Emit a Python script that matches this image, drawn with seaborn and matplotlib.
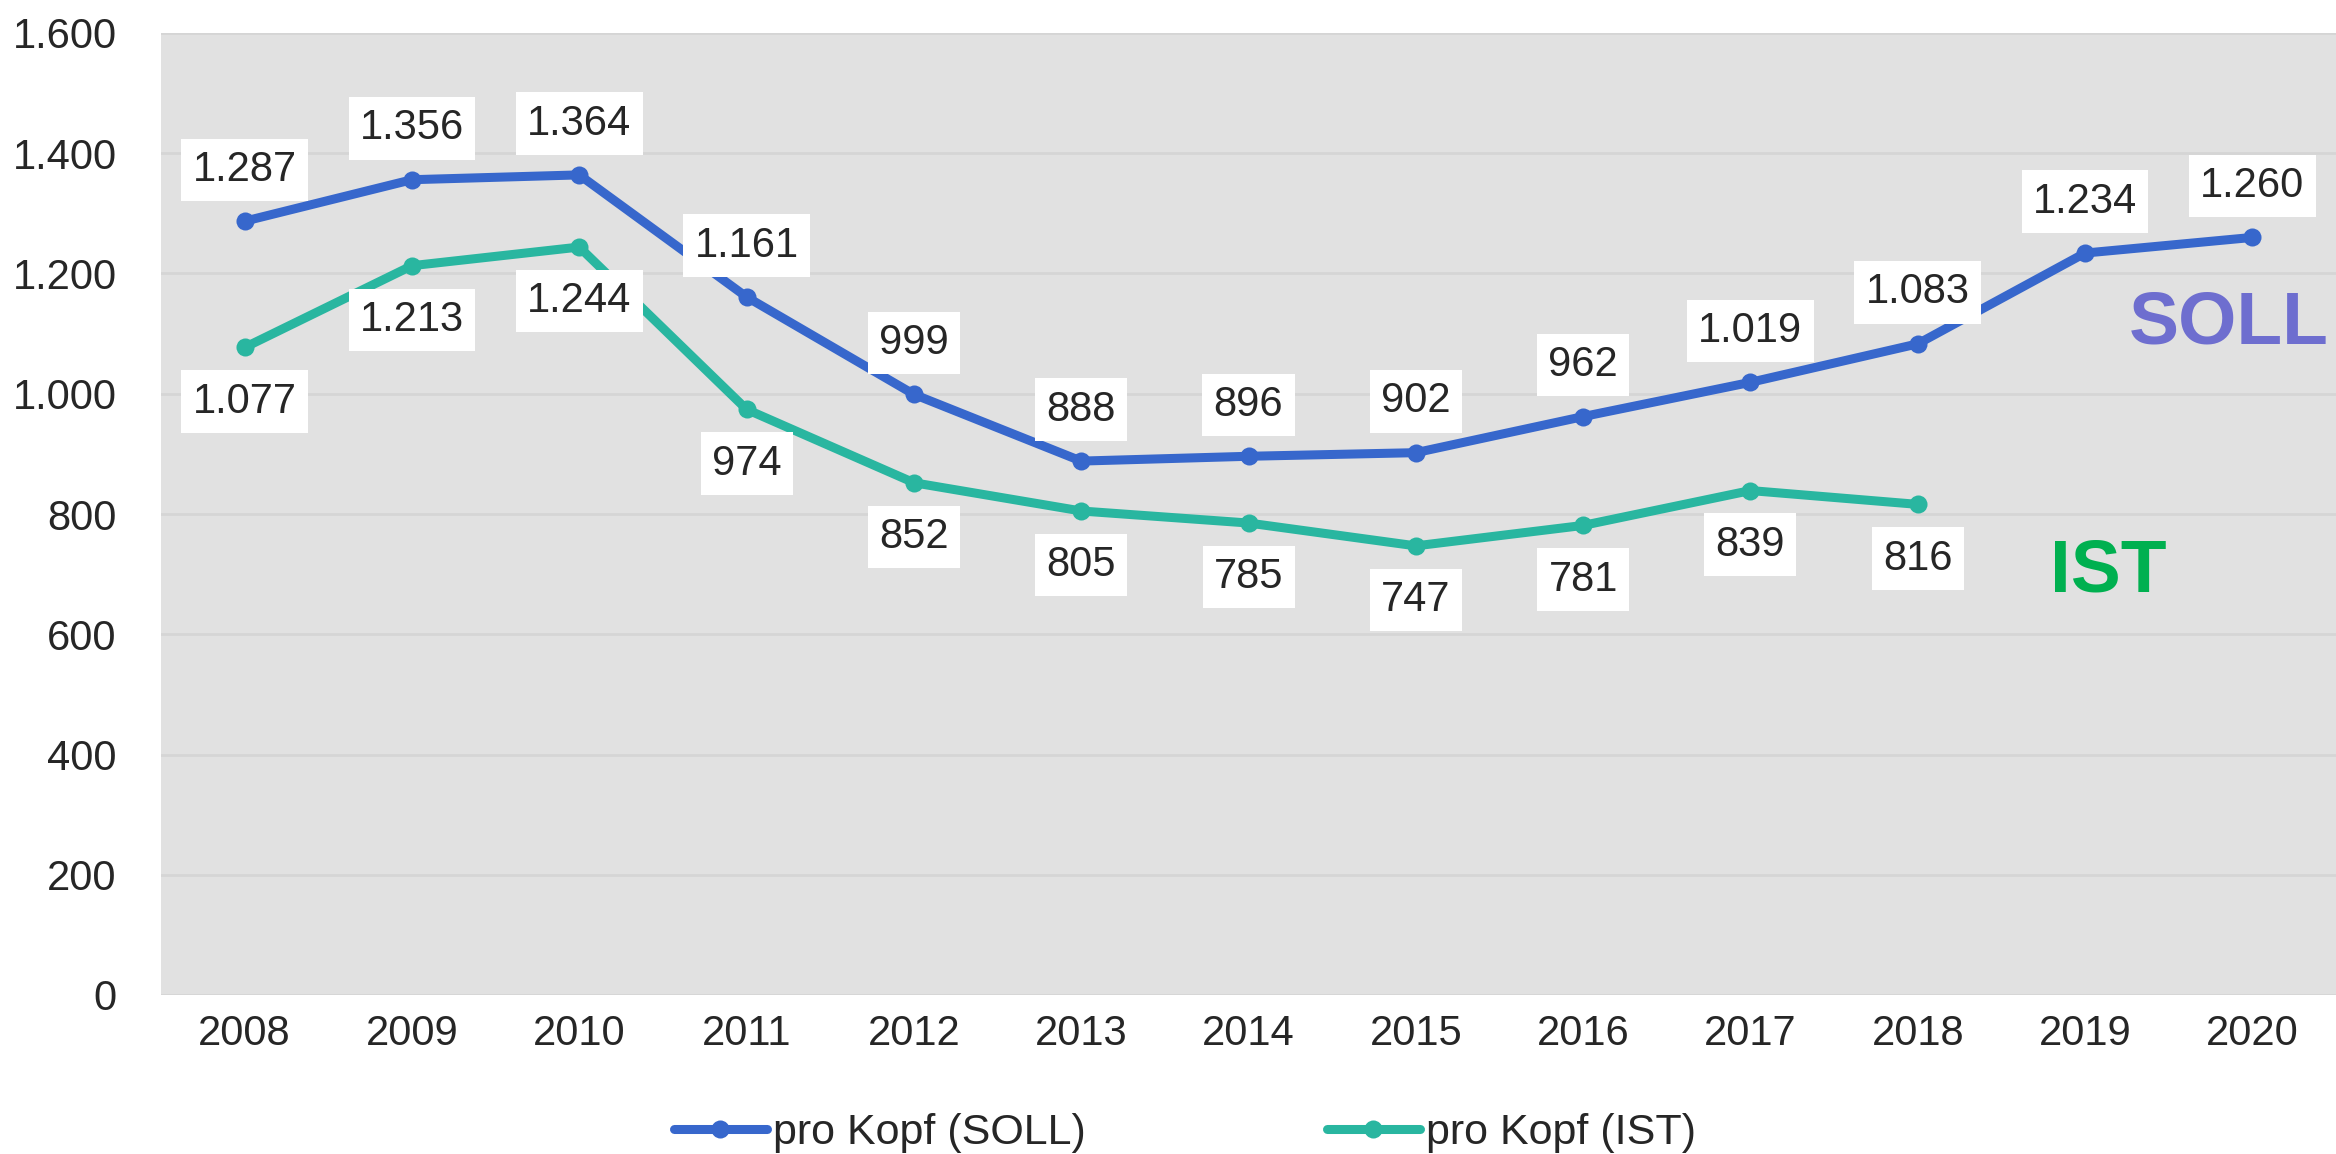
import pandas as pd
import matplotlib
matplotlib.use("Agg")
import matplotlib.pyplot as plt
import seaborn as sns
from matplotlib.ticker import FuncFormatter

# ==============================
# DATA
# ==============================

years = ["2008", "2009", "2010", "2011", "2012", "2013", "2014",
         "2015", "2016", "2017", "2018", "2019", "2020"]
soll = [1287, 1356, 1364, 1161, 999, 888, 896, 902, 962, 1019, 1083, 1234, 1260]
ist_years = ["2008", "2009", "2010", "2011", "2012", "2013", "2014",
             "2015", "2016", "2017", "2018"]
ist = [1077, 1213, 1244, 974, 852, 805, 785, 747, 781, 839, 816]

label_soll = "pro Kopf (SOLL)"
label_ist = "pro Kopf (IST)"

df = pd.concat([
    pd.DataFrame({"Jahr": years, "Wert": soll, "Reihe": label_soll}),
    pd.DataFrame({"Jahr": ist_years, "Wert": ist, "Reihe": label_ist}),
], ignore_index=True)

blue = "#3767CC"
teal = "#29B6A0"


def de_fmt(v):
    return f"{int(v):,}".replace(",", ".")


# ==============================
# STYLE
# ==============================

sns.set_theme(style="darkgrid", rc={
    "axes.facecolor": "#E1E1E1",
    "grid.color": "#D5D5D5",
    "grid.linewidth": 2.0,
})
plt.rcParams["font.family"] = ["Liberation Sans", "DejaVu Sans"]

fig = plt.figure(figsize=(23.36, 11.54), dpi=100)
ax = fig.add_axes([161 / 2336, 159 / 1154, 2175 / 2336, 962 / 1154])

sns.lineplot(
    data=df,
    x="Jahr",
    y="Wert",
    hue="Reihe",
    palette=[blue, teal],
    marker="o",
    markersize=13,
    markeredgewidth=0,
    linewidth=6.5,
    ax=ax,
)

ax.set_xlim(-0.5, len(years) - 0.5)
ax.set_ylim(0, 1600)
ax.set_yticks(range(0, 1601, 200))
ax.yaxis.set_major_formatter(FuncFormatter(lambda v, p: de_fmt(v)))
ax.grid(axis="x", visible=False)
ax.set_xlabel("")
ax.set_ylabel("")
ax.tick_params(axis="y", labelsize=30, pad=32, length=0)
ax.tick_params(axis="x", labelsize=30, pad=14, length=0)
for s in ax.spines.values():
    s.set_visible(False)

# data labels (white boxes)
box = dict(boxstyle="square,pad=0.27", fc="white", ec="none")
for i, v in enumerate(soll):
    ax.annotate(de_fmt(v), (i, v), xytext=(0, 37), textcoords="offset points",
                ha="center", va="center", fontsize=30, bbox=box, zorder=5)
for i, v in enumerate(ist):
    ax.annotate(de_fmt(v), (i, v), xytext=(0, -39), textcoords="offset points",
                ha="center", va="center", fontsize=30, bbox=box, zorder=5)

ax.text(11.86, 1116, "SOLL", color="#6E6ECF", fontsize=54, fontweight="bold",
        ha="center", va="center")
ax.text(11.14, 703, "IST", color="#00B050", fontsize=54, fontweight="bold",
        ha="center", va="center")

sns.move_legend(
    ax, "center",
    bbox_to_anchor=(1185 / 2336, 0.018),
    bbox_transform=fig.transFigure,
    ncol=2,
    frameon=False,
    title=None,
    fontsize=31,
    handlelength=2.15,
    handletextpad=0.15,
    columnspacing=5.6,
)

fig.savefig("out.png", dpi=100)
